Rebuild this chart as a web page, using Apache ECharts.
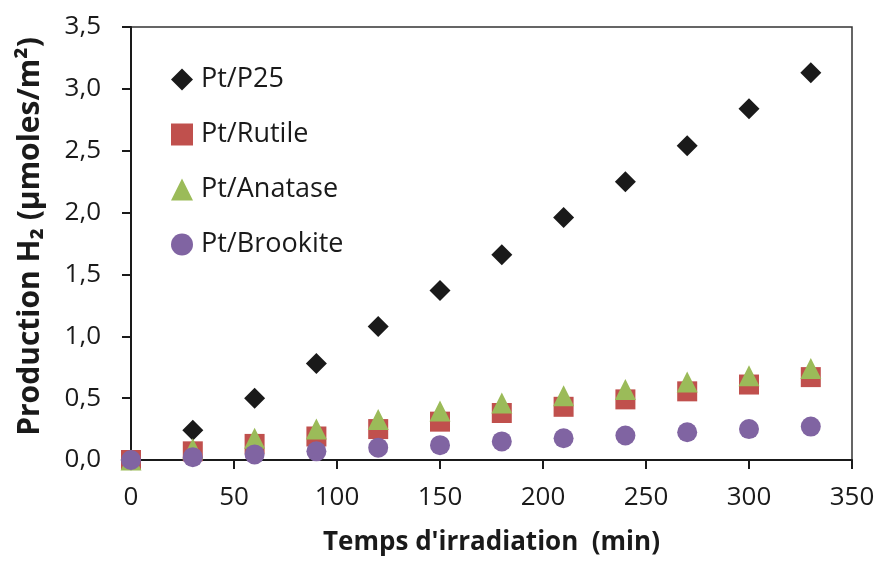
<!DOCTYPE html>
<html>
<head>
<meta charset="utf-8">
<script src="https://cdn.jsdelivr.net/npm/echarts@6/dist/echarts.min.js"></script>
<style>html,body{margin:0;padding:0;background:#fff}#c{width:878px;height:563px}</style>
</head>
<body>
<div id="c"></div>
<script>
const times = [0, 30, 60, 90, 120, 150, 180, 210, 240, 270, 300, 330];
const p25 = [0, 0.24, 0.50, 0.78, 1.08, 1.37, 1.66, 1.96, 2.25, 2.54, 2.84, 3.13];
const rutile = [0, 0.07, 0.13, 0.19, 0.25, 0.31, 0.38, 0.43, 0.49, 0.555, 0.61, 0.67];
const anatase = [0, 0.09, 0.175, 0.25, 0.327, 0.397, 0.46, 0.52, 0.57, 0.63, 0.68, 0.74];
const brookite = [0, 0.023, 0.045, 0.07, 0.10, 0.12, 0.15, 0.176, 0.198, 0.224, 0.25, 0.27];
const seriesNames = ['Pt/P25', 'Pt/Rutile', 'Pt/Anatase', 'Pt/Brookite'];
const xTitle = "Temps d'irradiation  (min)";
const yTitle = 'Production H₂ (µmoles/m²)';

const FONT = '"Open Sans", "Noto Sans", sans-serif';
const pts = arr => times.map((t, i) => [t, arr[i]]);
const chart = echarts.init(document.getElementById('c'), null, {renderer: 'canvas'});
const mk = (name, data, symbol, color, size) => ({
  name, type: 'scatter', data: pts(data), symbol, symbolSize: size,
  itemStyle: {color, opacity: 1}, emphasis: {disabled: true}
});
chart.setOption({
  animation: false,
  textStyle: {fontFamily: FONT},
  grid: {left: 131, right: 26, top: 27, bottom: 103, show: true, borderColor: '#333', borderWidth: 1.5, backgroundColor: 'transparent'},
  legend: {
    orient: 'vertical', left: 166, top: 61, itemGap: 28, itemWidth: 22, itemHeight: 22,
    textStyle: {fontSize: 27, color: '#1a1a1a', fontFamily: FONT, padding: [0, 0, 0, 3]},
    data: [
      {name: seriesNames[0], icon: 'diamond'},
      {name: seriesNames[1], icon: 'rect'},
      {name: seriesNames[2], icon: 'triangle'},
      {name: seriesNames[3], icon: 'circle'}
    ]
  },
  xAxis: {
    type: 'value', min: 0, max: 350, interval: 50,
    name: xTitle, nameLocation: 'middle', nameGap: 70,
    nameTextStyle: {fontSize: 26, fontWeight: 'bold', color: '#1a1a1a', fontFamily: FONT},
    axisLine: {lineStyle: {color: '#1a1a1a', width: 2}},
    axisTick: {show: true, length: 9, lineStyle: {color: '#1a1a1a', width: 2}},
    axisLabel: {fontSize: 26, color: '#1a1a1a', margin: 25},
    splitLine: {show: false}
  },
  yAxis: {
    type: 'value', min: 0, max: 3.5, interval: 0.5,
    name: yTitle, nameLocation: 'middle', nameGap: 86, nameRotate: 90,
    nameTextStyle: {fontSize: 30, fontWeight: 'bold', color: '#1a1a1a', fontFamily: FONT, padding: [0, 0, 0, 14]},
    axisLine: {show: true, lineStyle: {color: '#1a1a1a', width: 2}},
    axisTick: {show: true, length: 9, lineStyle: {color: '#1a1a1a', width: 2}},
    axisLabel: {fontSize: 26, color: '#1a1a1a', margin: 30, formatter: v => v.toFixed(1).replace('.', ',')},
    splitLine: {show: false}
  },
  series: [
    mk(seriesNames[0], p25, 'diamond', '#1a1a1a', 21),
    mk(seriesNames[1], rutile, 'rect', '#c0504d', 20),
    mk(seriesNames[2], anatase, 'triangle', '#9bbb59', 21),
    mk(seriesNames[3], brookite, 'circle', '#8064a2', 20)
  ]
});
</script>
</body>
</html>
